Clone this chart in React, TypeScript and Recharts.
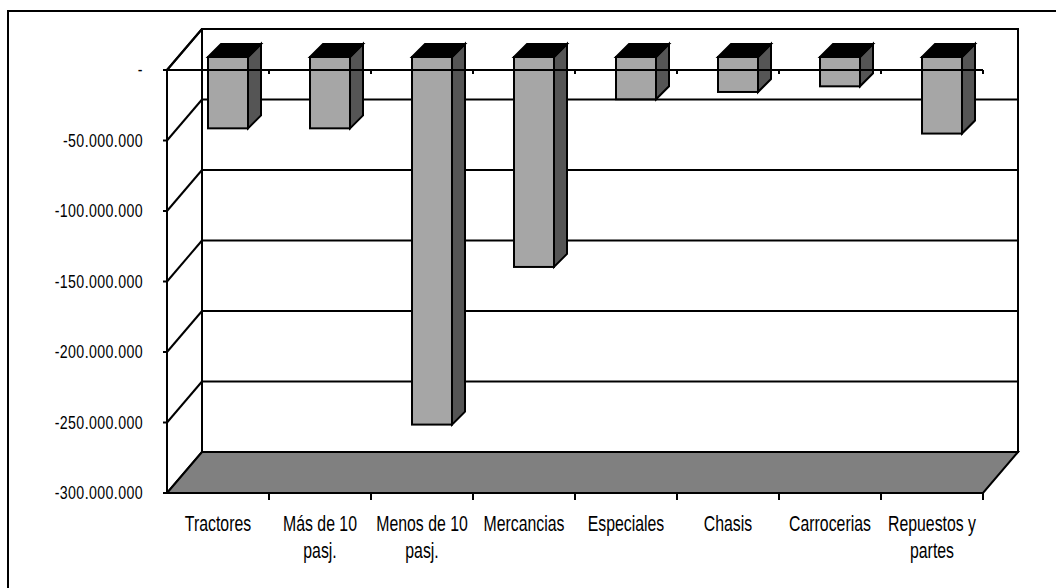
import React from 'react';
import { BarChart, Bar, XAxis, YAxis, CartesianGrid, ReferenceArea } from 'recharts';

const CATEGORIES = [
  'Tractores',
  'Más de 10 pasj.',
  'Menos de 10 pasj.',
  'Mercancias',
  'Especiales',
  'Chasis',
  'Carrocerias',
  'Repuestos y partes',
];
const VALUES = [
  -50600000, -50600000, -260700000, -148900000, -30000000, -24800000, -20800000, -54300000,
];
const Y_TICKS = [0, -50000000, -100000000, -150000000, -200000000, -250000000, -300000000];

const data = CATEGORIES.map((name, i) => ({ name, value: VALUES[i] }));

const W = 1056;
const H = 588;
// oblique projection of the chart box (back wall offset)
const DEPTH_X = 35;
const DEPTH_Y = 41;
// where the bars sit inside the box, and how deep they are
const BAR_OFFSET_X = 10;
const BAR_OFFSET_Y = 13;
const BAR_DEPTH_X = 13;
const BAR_DEPTH_Y = 13;
const FONT = '"Liberation Sans", Arial, sans-serif';
const LINE = { stroke: '#000', strokeWidth: 2 };

function formatMoney(v: number) {
  if (v === 0) return '-';
  const s = Math.abs(v).toString().replace(/\B(?=(\d{3})+(?!\d))/g, '.');
  return (v < 0 ? '-' : '') + s;
}

function wrapLabel(text: string, max = 11) {
  const lines: string[] = [];
  let cur = '';
  for (const w of text.split(' ')) {
    const next = cur ? cur + ' ' + w : w;
    if (next.length > max && cur) {
      lines.push(cur);
      cur = w;
    } else {
      cur = next;
    }
  }
  if (cur) lines.push(cur);
  return lines;
}

const Bar3D = (props: any) => {
  const { x, y, width, height } = props;
  const top = Math.min(y, y + height) - BAR_OFFSET_Y;
  const bottom = Math.max(y, y + height) - BAR_OFFSET_Y;
  const left = x + BAR_OFFSET_X;
  const right = left + width;
  return (
    <g>
      <rect x={left} y={top} width={width} height={bottom - top} fill="#a6a6a6" {...LINE} />
      <polygon
        points={`${right},${top} ${right + BAR_DEPTH_X},${top - BAR_DEPTH_Y} ${right + BAR_DEPTH_X},${bottom - BAR_DEPTH_Y} ${right},${bottom}`}
        fill="#555555"
        {...LINE}
      />
      <polygon
        points={`${left},${top} ${left + BAR_DEPTH_X},${top - BAR_DEPTH_Y} ${right + BAR_DEPTH_X},${top - BAR_DEPTH_Y} ${right},${top}`}
        fill="#000"
        {...LINE}
      />
    </g>
  );
};

// back wall outline, floor and the top edge of the side wall
const Walls = (props: any) => {
  const { x, y, width, height } = props;
  const floorY = y + height;
  return (
    <g>
      <rect x={x + DEPTH_X} y={y - DEPTH_Y} width={width} height={height} fill="none" {...LINE} />
      <polygon
        points={`${x},${floorY} ${x + width},${floorY} ${x + width + DEPTH_X},${floorY - DEPTH_Y} ${x + DEPTH_X},${floorY - DEPTH_Y}`}
        fill="#808080"
        {...LINE}
      />
      <line x1={x} y1={y} x2={x + DEPTH_X} y2={y - DEPTH_Y} {...LINE} />
    </g>
  );
};

// each value gridline runs up the side wall and across the back wall
const backGridLine = (props: any) => {
  const { x1, x2, y1 } = props;
  return (
    <g key={props.key ?? `g-${y1}`}>
      <line x1={x1} y1={y1} x2={x1 + DEPTH_X} y2={y1 - DEPTH_Y} {...LINE} />
      <line x1={x1 + DEPTH_X} y1={y1 - DEPTH_Y} x2={x2 + DEPTH_X} y2={y1 - DEPTH_Y} {...LINE} />
    </g>
  );
};

const CategoryTick = (props: any) => {
  const { x, y, payload, width, visibleTicksCount } = props;
  const half = width / visibleTicksCount / 2;
  const lines = wrapLabel(String(payload.value));
  return (
    <g>
      <line x1={x + half} y1={y} x2={x + half} y2={y + 7} {...LINE} />
      <g transform={`translate(${x},${y}) scale(0.72,1)`}>
        <text textAnchor="middle" fontFamily={FONT} fontSize={22} fill="#000">
          {lines.map((l, i) => (
            <tspan key={i} x={0} y={38 + i * 27}>
              {l}
            </tspan>
          ))}
        </text>
      </g>
    </g>
  );
};

// small ticks hanging from the zero line
const ZeroTick = (props: any) => {
  const { x, y, width, visibleTicksCount } = props;
  const half = width / visibleTicksCount / 2;
  return <line x1={x + half} y1={y} x2={x + half} y2={y + 4} {...LINE} />;
};

const ValueTick = (props: any) => {
  const { x, y, payload } = props;
  return (
    <g transform={`translate(${x},${y}) scale(0.81,1)`}>
      <text textAnchor="end" dy="0.35em" fontFamily={FONT} fontSize={17.5} letterSpacing={0.5} fill="#000">
        {formatMoney(payload.value)}
      </text>
    </g>
  );
};

export default function App() {
  return (
    <div style={{ position: 'absolute', left: 0, top: 0, width: W, height: H, overflow: 'hidden', background: '#fff' }}>
      <div
        style={{
          position: 'absolute',
          left: 7,
          top: 10,
          width: W + 40,
          height: H + 40,
          border: '2px solid #000',
        }}
      />
      <BarChart
        width={W}
        height={H}
        data={data}
        margin={{ top: 69, right: 73, bottom: 0, left: 0 }}
        barSize={40}
      >
        <CartesianGrid vertical={false} horizontal={backGridLine} />
        <ReferenceArea y1={-300000000} y2={0} shape={Walls} />
        <Bar dataKey="value" shape={Bar3D} isAnimationActive={false} />
        <XAxis
          dataKey="name"
          height={95}
          interval={0}
          tickLine={false}
          tickSize={0}
          tickMargin={0}
          axisLine={LINE}
          tick={CategoryTick}
        />
        <XAxis
          xAxisId="zero"
          dataKey="name"
          orientation="top"
          height={1}
          interval={0}
          tickLine={false}
          tickSize={0}
          tickMargin={0}
          axisLine={LINE}
          tick={ZeroTick}
        />
        <YAxis
          type="number"
          domain={[-300000000, 0]}
          ticks={Y_TICKS}
          interval={0}
          width={167}
          tickSize={4}
          tickMargin={20}
          axisLine={LINE}
          tickLine={LINE}
          tick={ValueTick}
        />
      </BarChart>
    </div>
  );
}
